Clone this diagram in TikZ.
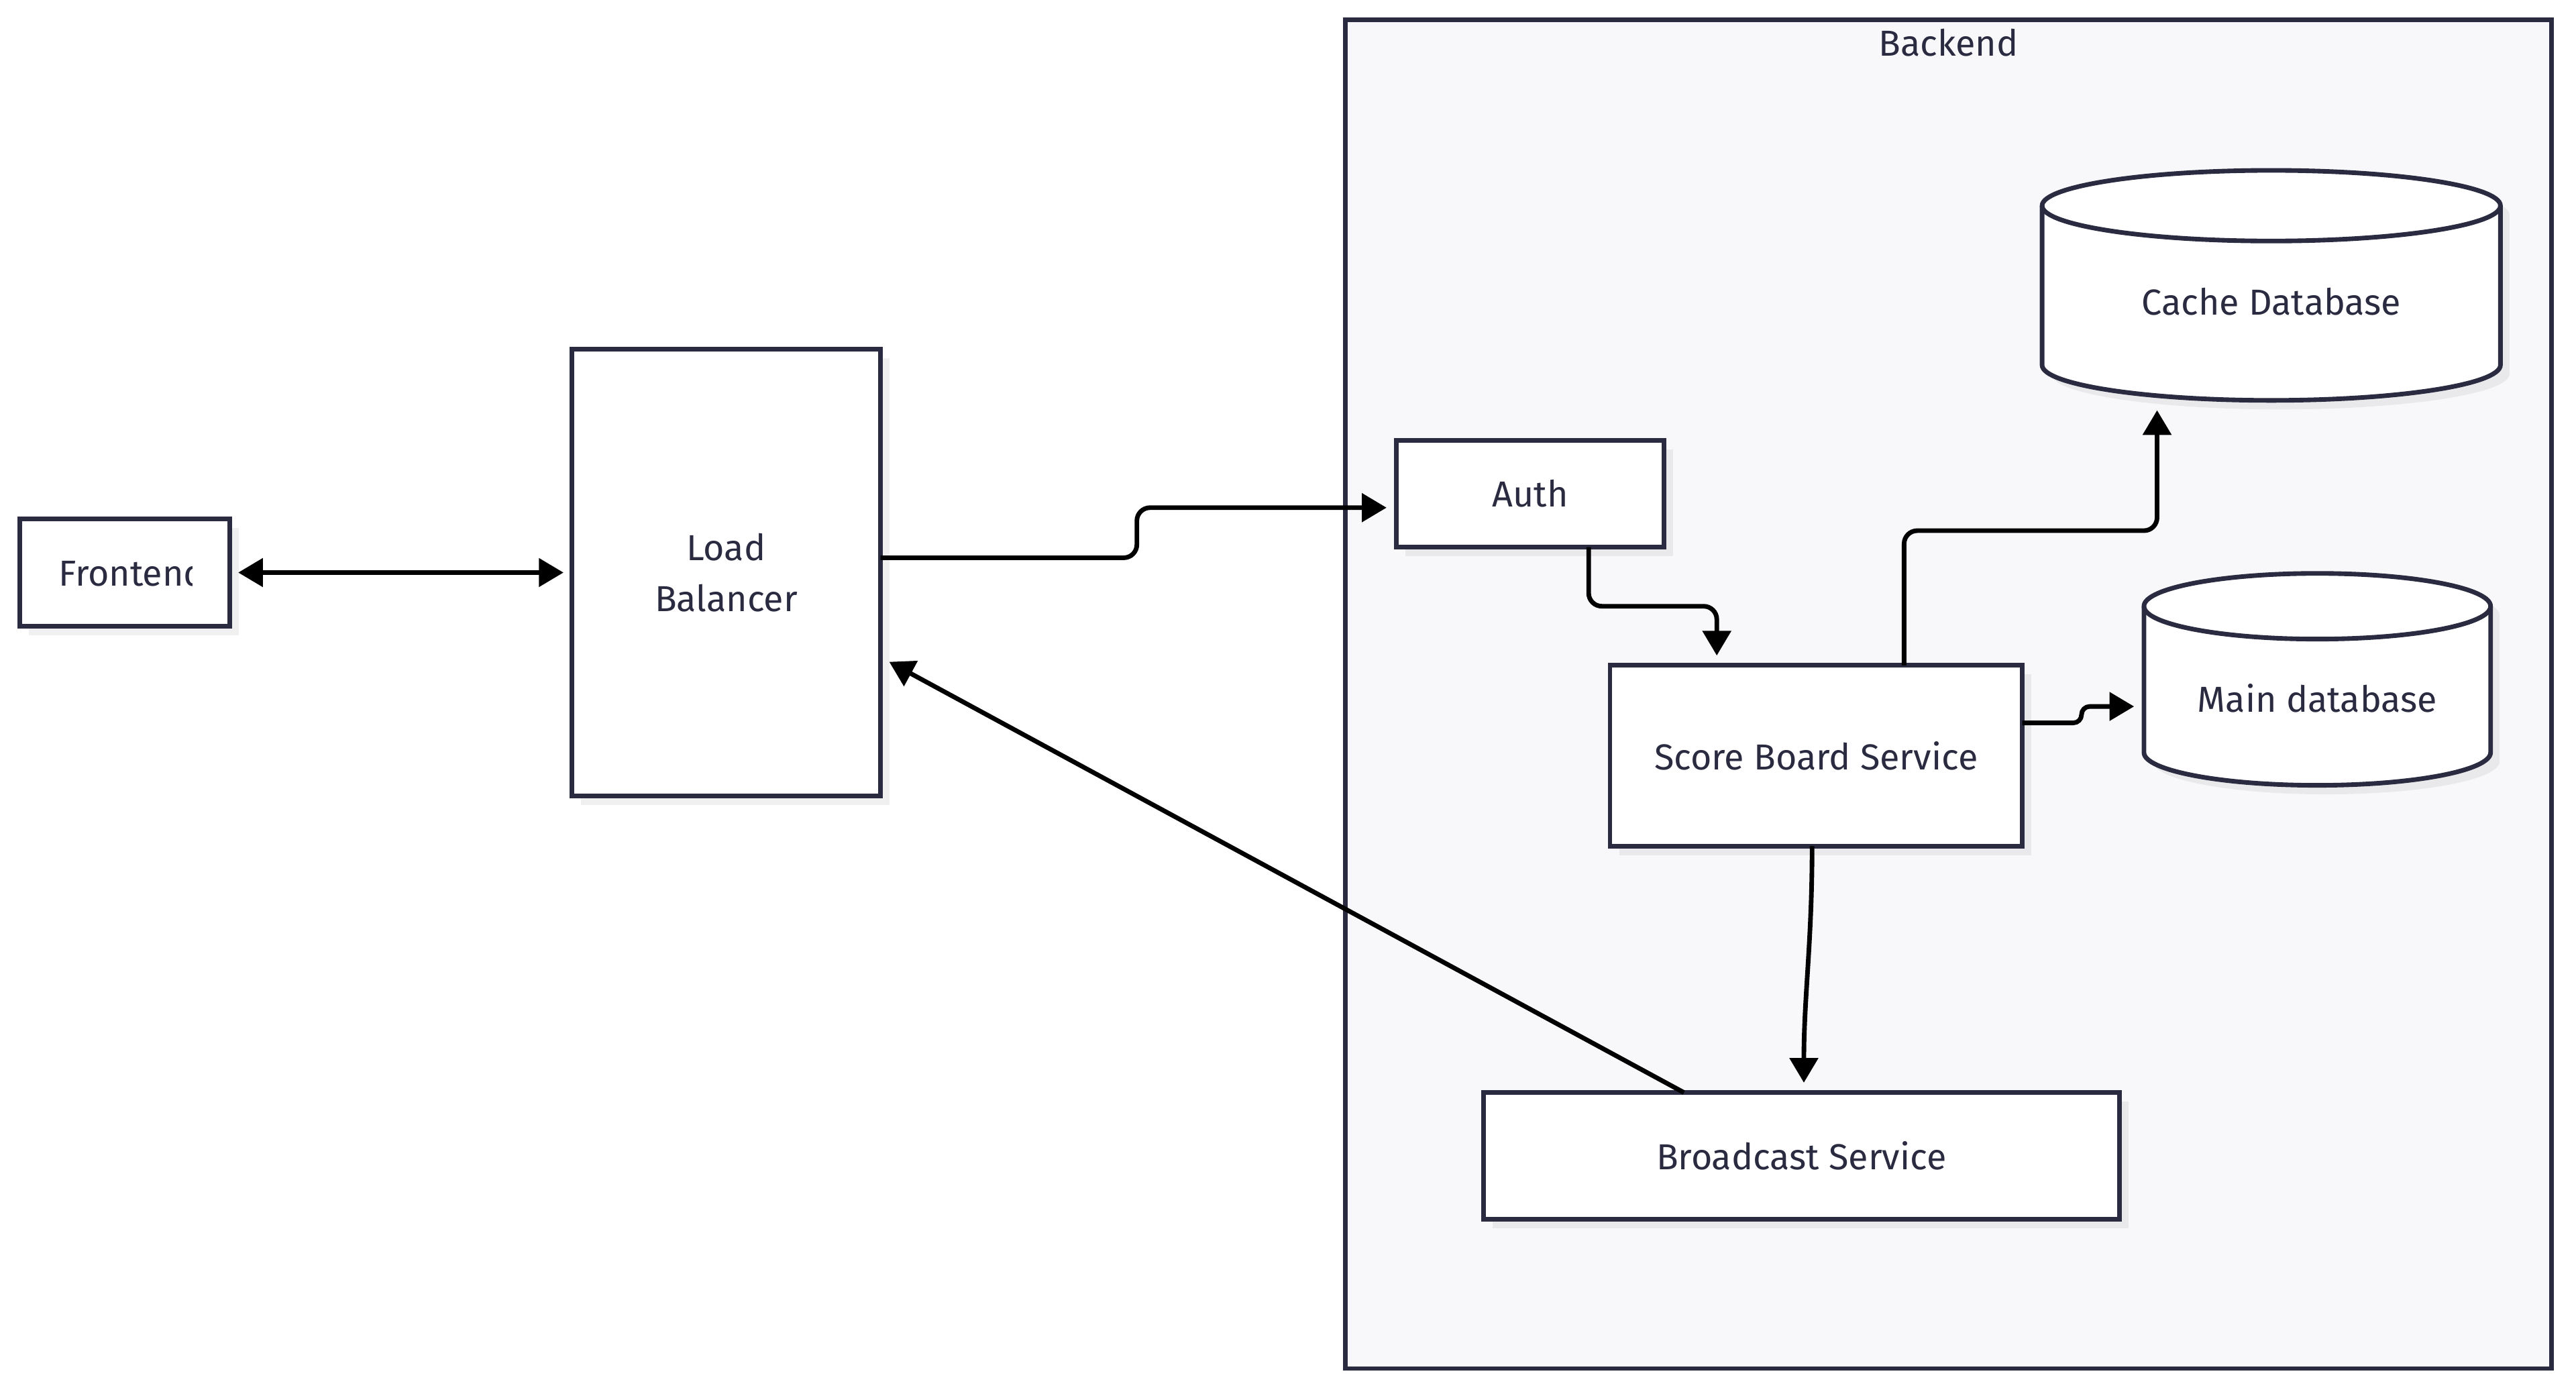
\documentclass[tikz,border=0pt]{standalone}
\usepackage{fontspec}
\setmainfont{Fira Sans}
\usetikzlibrary{arrows.meta,calc,positioning,shadows}
\definecolor{ink}{HTML}{2A2A40}
\definecolor{panel}{HTML}{F8F8FA}

% cylinder drawn round an empty node: node, x radius, y radius
\newcommand\dbcan[3]{%
  \fill[canshadow] ([shift={(5.5pt,-#3-5.5pt)}]#1.north west)
      -- ([shift={(5.5pt,#3-5.5pt)}]#1.south west)
      arc[start angle=180, end angle=360, x radius=#2, y radius=#3]
      -- ([shift={(5.5pt,-#3-5.5pt)}]#1.north east)
      arc[start angle=0, end angle=180, x radius=#2, y radius=#3] -- cycle;
  \draw[can] ([yshift=-#3]#1.north west)
      -- ([yshift=#3]#1.south west)
      arc[start angle=180, end angle=360, x radius=#2, y radius=#3]
      -- ([yshift=-#3]#1.north east)
      arc[start angle=0, end angle=180, x radius=#2, y radius=#3] -- cycle;
  \draw[can, fill=none] ([yshift=-#3]#1.north west)
      arc[start angle=180, end angle=360, x radius=#2, y radius=#3];
}

\begin{document}
\begin{tikzpicture}[
x=1pt, y=1pt,
node distance= 72pt and 208pt,
box/.style   = {minimum width=#1,
                draw=ink, line width=2.8pt, fill=white,
                inner sep=0pt, outer sep=0pt,
                text=ink, font=\fontsize{22}{31}\selectfont, align=center,
                drop shadow={shadow xshift=5.5pt, shadow yshift=-5.5pt,
                             fill=black, opacity=0.06}},
dbase/.style = {minimum width=#1, inner sep=0pt, outer sep=0pt},
lbl/.style   = {text=ink, inner sep=0pt, font=\fontsize{22}{31}\selectfont},
can/.style   = {draw=ink, line width=2.8pt, fill=white},
canshadow/.style = {fill=black, opacity=0.06},
Arrow/.style = {line width=2.8pt, draw=black,
                -{Triangle[length=15pt,width=17pt]},
                shorten >=6pt},
                    ]
\path[use as bounding box, fill=white] (0,0) rectangle (1568,-847);

\node[draw=ink, line width=2.7pt, fill=panel, inner sep=0pt, outer sep=0pt,
      minimum width=734pt, minimum height=821pt] (backend) at (1186,-422.5) {};
\node[lbl] (backendlbl) at ([yshift=-14pt]backend.north) {Backend};

\node[box=128pt, minimum height=65pt]   (frontend) at (76,-348.5) {};
\begin{scope}
\clip (35,-320) rectangle (117,-380);
\node[lbl, anchor=west] (fronttext) at ([xshift=-40.5pt]frontend.center) {Frontend};
\end{scope}
\node[box=188pt, minimum height=272pt, right=of frontend] (lb) {Load\\Balancer};

\node[box=163pt, minimum height=65pt]   (auth) at (931.5,-300.5) {Auth};
\node[box=251pt, minimum height=110pt,
      below right=72pt and -33pt of auth] (score) {Score Board Service};
\node[box=387pt, minimum height=77pt]   (bcast) at (1096.5,-703.5) {Broadcast Service};

\node[dbase=279pt, minimum height=140pt] (cache) at (1382.5,-173.7) {};
\dbcan{cache}{139.5pt}{21.5pt}
\node[lbl] (cachetext) at ([yshift=-10pt]cache.center) {Cache Database};

\node[dbase=211pt, minimum height=129pt] (main) at (1410.5,-413.5) {};
\dbcan{main}{105.5pt}{20pt}
\node[lbl] (maintext) at ([yshift=-11.5pt]main.center) {Main database};

\draw[Arrow, {Triangle[length=15pt,width=17pt]}-{Triangle[length=15pt,width=17pt]},
      shorten <=5pt, shorten >=5pt]  (frontend.east) -- (frontend.east -| lb.west);
\draw[Arrow, rounded corners=8pt] ([yshift=9pt]lb.east) -- ++(156,0)
      |- ([yshift=-8.5pt]auth.west);
\draw[Arrow, rounded corners=8pt] ([xshift=35.5pt]auth.south) -- ++(0,-36)
      -| ([xshift=-60.5pt]score.north);
\draw[Arrow, rounded corners=8pt] ([xshift=53.5pt]score.north) -- ++(0,82)
      -| ([xshift=-69.5pt]cache.south);
\draw[Arrow, rounded corners=5pt] ([yshift=20pt]score.east) -- ++(36,0)
      |- ([yshift=-16.5pt]main.west);
\draw[Arrow] ([xshift=-2.5pt]score.south) to[out=-90, in=90] ([xshift=1.5pt]bcast.north);
\draw[Arrow] ([xshift=-71.5pt]bcast.north) -- ([yshift=-51.5pt]lb.east);
\end{tikzpicture}
\end{document}
